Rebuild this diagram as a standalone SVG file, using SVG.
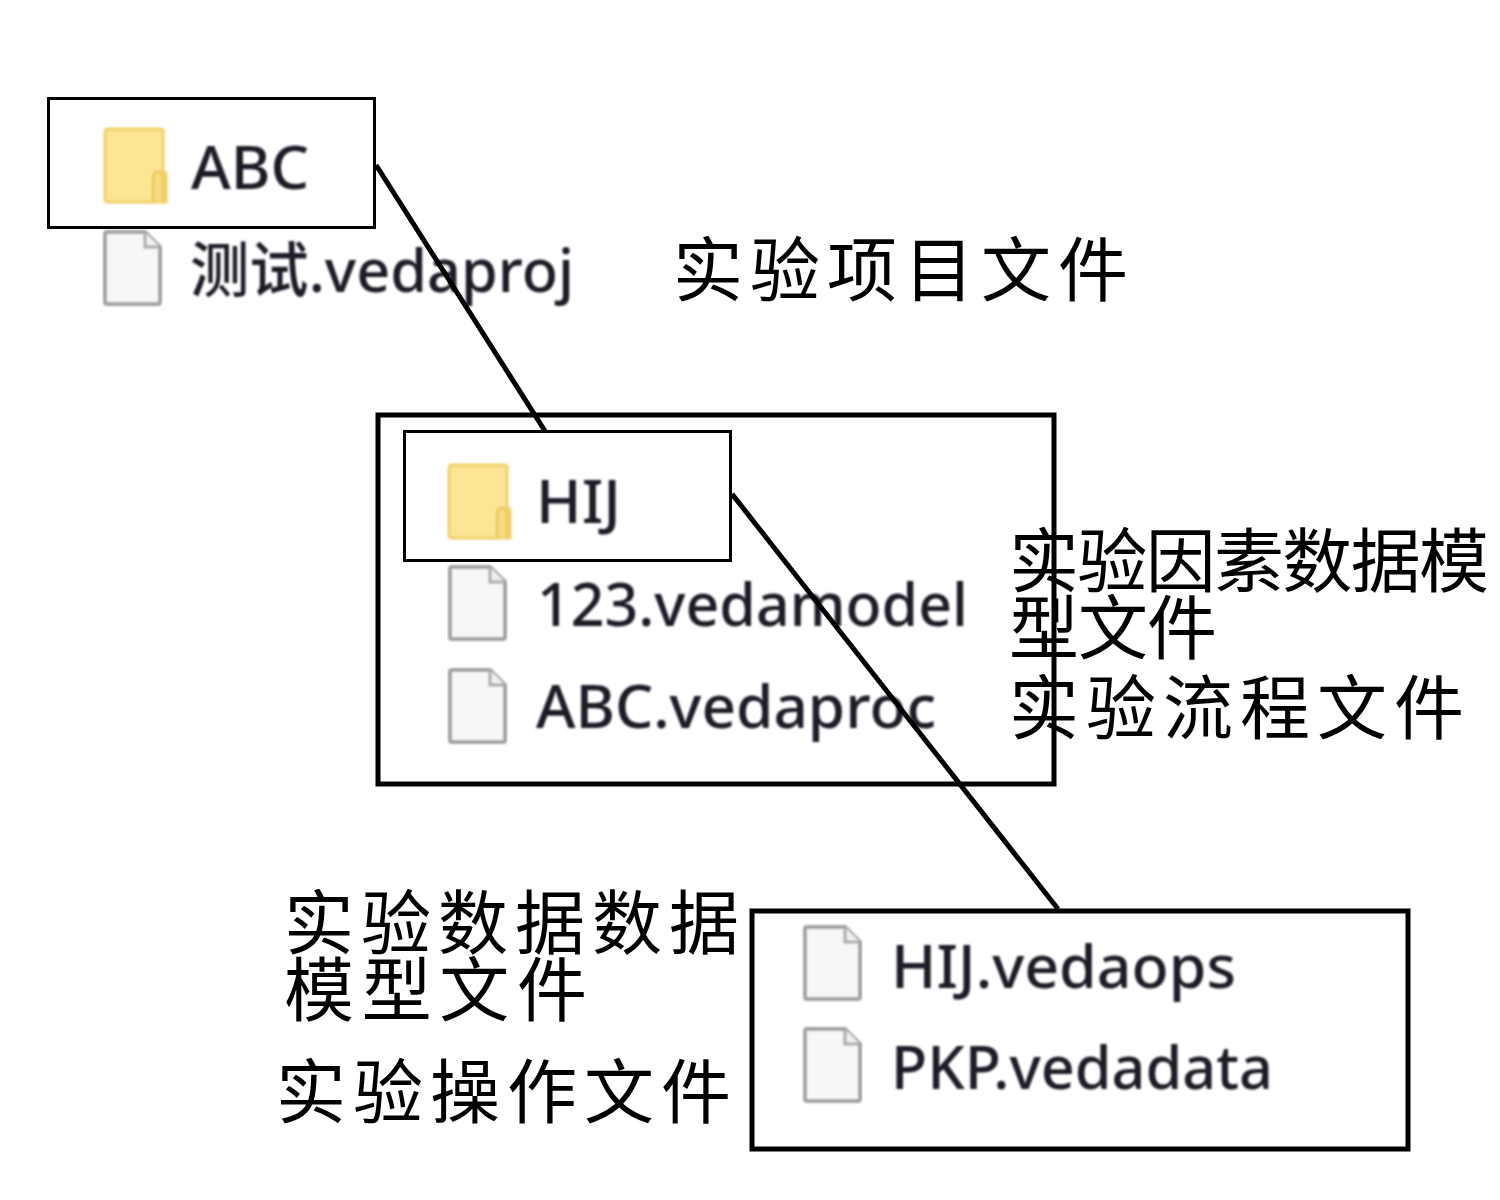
<svg xmlns="http://www.w3.org/2000/svg" width="1500" height="1200" viewBox="0 0 1500 1200">
<style>
.cn{font-family:"Noto Sans CJK SC","Liberation Sans",sans-serif;font-size:70px;fill:#000}
.fn{font-family:"Noto Sans","Noto Sans CJK SC",sans-serif;font-size:60px;font-weight:500;fill:#1c1c28;filter:url(#soft)}
.box{fill:none;stroke:#000}
.conn{fill:none;stroke:#000;stroke-width:5}
</style>
<defs>
<filter id="soft" x="-5%" y="-10%" width="110%" height="120%"><feGaussianBlur stdDeviation="0.9"/></filter>
<g id="folder" filter="url(#soft)"><path d="M2 4q0-3 3-3h52q3 0 3 3v40h0q3 0 3 3v27h-58q-3 0-3-3z" fill="#fde596" stroke="#f0d068" stroke-width="3"/><path d="M50 74v-22q0-8 5-8t5 8v22" fill="#f9dc80" stroke="#ecca60" stroke-width="3"/></g>
<g id="file" filter="url(#soft)"><path d="M4 2h38l15 15v55q0 2-2 2h-51q-2 0-2-2v-68q0-2 2-2z" fill="#f6f7f9" stroke="#a2a2a2" stroke-width="4"/><path d="M42 2v15h15" fill="#f0f0f2" stroke="#a8a8a8" stroke-width="3"/></g>
</defs>
<g id="node-abc"><rect class="box" x="48.500" y="98.500" width="326" height="129" stroke-width="3"/><use href="#folder" x="103" y="128"/><text class="fn" x="191" y="189" textLength="118" lengthAdjust="spacingAndGlyphs">ABC</text></g>
<g id="node-proj"><use href="#file" x="103" y="230"/><text class="fn" x="190" y="292" textLength="384" lengthAdjust="spacingAndGlyphs">测试.vedaproj</text><text class="cn" x="673" y="296" textLength="455">实验项目文件</text></g>
<g id="node-outer"><rect class="box" x="378" y="415" width="676" height="369" stroke-width="5"/></g>
<g id="node-hij"><rect class="box" x="404.500" y="431.500" width="326" height="129" stroke-width="3"/><use href="#folder" x="447" y="464"/><text class="fn" x="536" y="523" textLength="85" lengthAdjust="spacingAndGlyphs">HIJ</text></g>
<g id="node-model"><use href="#file" x="448" y="565"/><text class="fn" x="537" y="626" textLength="431" lengthAdjust="spacingAndGlyphs">123.vedamodel</text></g>
<g id="node-proc"><use href="#file" x="448" y="668"/><text class="fn" x="536" y="728" textLength="400" lengthAdjust="spacingAndGlyphs">ABC.vedaproc</text></g>
<g id="node-labels-mid"><text class="cn" x="1009" y="587" textLength="480">实验因素数据模</text><text class="cn" x="1009" y="654" textLength="208">型文件</text><text class="cn" x="1009" y="734" textLength="455">实验流程文件</text></g>
<g id="node-outer2"><rect class="box" x="752" y="911" width="656" height="238" stroke-width="5"/></g>
<g id="node-ops"><use href="#file" x="803" y="925"/><text class="fn" x="891" y="988" textLength="345" lengthAdjust="spacingAndGlyphs">HIJ.vedaops</text></g>
<g id="node-data"><use href="#file" x="803" y="1027"/><text class="fn" x="891" y="1089" textLength="382" lengthAdjust="spacingAndGlyphs">PKP.vedadata</text></g>
<g id="node-labels-low"><text class="cn" x="284" y="949" textLength="455">实验数据数据</text><text class="cn" x="284" y="1016" textLength="303">模型文件</text><text class="cn" x="276" y="1118" textLength="455">实验操作文件</text></g>
<g id="connectors"><line class="conn" x1="376" y1="165" x2="545" y2="431"/><line class="conn" x1="732" y1="494" x2="1058" y2="909"/></g>
</svg>
